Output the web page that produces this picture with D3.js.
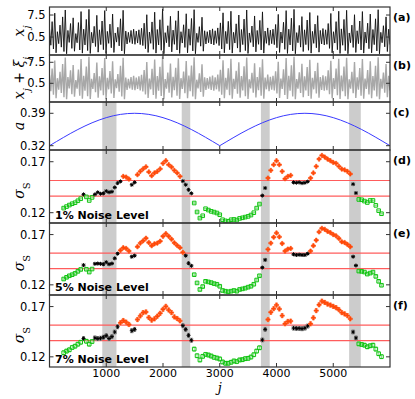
<!DOCTYPE html>
<html>
<head>
<meta charset="utf-8">
<script src="https://cdnjs.cloudflare.com/ajax/libs/d3/7.8.5/d3.min.js"></script>
<style>
  body { margin: 0; background: #fff; }
  text { font-family: "DejaVu Sans", sans-serif; }
</style>
</head>
<body>
<svg id="chart" width="415" height="399"></svg>
<script>
// ---- data ----
// x_j : peaks and troughs of the signal, left to right
var xSignal = [
  3.2,-2.1, 5.4,-3.3, 8.1,-4.5, 2.2,-1.6, 4.3,-2.7, 6.9,-4.1, 9.1,-4.8, 2.6,-1.2, 4.8,-3.1, 6.6,-4.0,
  1.6,-1.3, 5.1,-3.6, 8.6,-4.6, 3.0,-2.0, 6.1,-3.8, 9.3,-4.7, 2.0,-1.4, 3.9,-2.5, 7.4,-4.3, 2.8,-1.9,
  5.6,-3.5, 8.9,-4.7, 2.3,-1.5, 4.6,-2.9, 7.8,-4.4, 1.8,-1.1, 3.6,-2.3, 6.3,-3.9, 9.0,-4.8, 2.4,-1.7,
  2.0,-1.2, 2.6,-1.6, 3.0,-1.8, 2.4,-1.4, 2.8,-1.9, 3.3,-2.2, 4.9,-3.2, 7.6,-4.4, 2.1,-1.5, 5.3,-3.4,
  8.4,-4.6, 2.9,-2.0, 6.0,-3.7, 9.4,-4.8, 1.9,-1.3, 4.1,-2.6, 7.1,-4.2, 2.7,-1.8, 5.7,-3.6, 8.8,-4.7,
  2.2,-1.4, 4.4,-2.8, 7.9,-4.5, 3.1,-2.1, 6.4,-3.9, 9.2,-4.8, 1.7,-1.2, 3.8,-2.4, 6.8,-4.0, 2.5,-1.7,
  2.2,-1.3, 2.7,-1.7, 3.1,-2.0, 2.5,-1.5, 3.4,-2.2, 5.0,-3.3, 8.2,-4.5, 2.3,-1.6, 5.5,-3.5, 8.7,-4.6,
  2.0,-1.4, 4.7,-3.0, 7.5,-4.3, 2.9,-1.9, 6.2,-3.8, 9.1,-4.7, 1.8,-1.2, 4.0,-2.6, 7.2,-4.2, 2.6,-1.8,
  5.8,-3.6, 8.5,-4.6, 2.4,-1.5, 3.4,-2.1, 2.7,-1.6, 3.0,-1.9, 4.5,-2.9, 7.7,-4.4, 2.1,-1.4, 5.2,-3.4,
  8.9,-4.7, 3.0,-2.0, 6.5,-3.9, 9.3,-4.8, 1.9,-1.3, 4.2,-2.7, 7.0,-4.1, 2.8,-1.9, 5.9,-3.7, 8.3,-4.6,
  2.3,-1.5, 4.6,-2.9, 7.3,-4.3, 2.6,-1.7, 3.2,-2.0, 2.8,-1.8, 4.8,-3.1, 8.0,-4.5, 2.2,-1.4, 5.4,-3.5,
  8.7,-4.7, 3.1,-2.1, 6.1,-3.8, 9.0,-4.8, 1.8,-1.3, 4.3,-2.8, 7.6,-4.4, 2.5,-1.6, 5.6,-3.6, 8.6,-4.6,
  2.1,-1.4, 4.9,-3.2, 7.8,-4.5, 2.9,-1.9, 6.3,-3.9, 9.2,-4.8, 2.0,-1.3, 4.1,-2.6, 6.9,-4.1, 3.0,-1.9
];

// a : control parameter, every 125 steps of j from 0 to 6000
var aStep = 125;
var aValues = [
  0.3200,0.3291,0.3381,0.3468,0.3550,0.3626,0.3695,0.3755,0.3806,0.3847,0.3876,0.3894,0.3900,
  0.3894,0.3876,0.3847,0.3806,0.3755,0.3695,0.3626,0.3550,0.3468,0.3381,0.3291,0.3200,
  0.3291,0.3381,0.3468,0.3550,0.3626,0.3695,0.3755,0.3806,0.3847,0.3876,0.3894,0.3900,
  0.3894,0.3876,0.3847,0.3806,0.3755,0.3695,0.3626,0.3550,0.3468,0.3381,0.3291,0.3200
];

// sigma_S, one value every 50 steps of j starting at j = 250
var sigmaStart = 250, sigmaStep = 50;
var sigma1 = [
  0.1245,0.1260,0.1275,0.1288,0.1298,0.1317,0.1337,0.1380,0.1355,0.1320,
  0.1350,0.1380,0.1400,0.1386,0.1390,0.1412,0.1400,0.1406,0.1448,0.1490,
  0.1507,0.1556,0.1550,0.1530,0.1474,0.1497,0.1573,0.1605,0.1630,0.1650,
  0.1600,0.1563,0.1590,0.1605,0.1630,0.1684,0.1710,0.1671,0.1648,0.1615,
  0.1590,0.1556,0.1510,0.1474,0.1425,0.1390,0.1295,0.1207,0.1147,0.1170,
  0.1239,0.1226,0.1213,0.1206,0.1197,0.1180,0.1131,0.1120,0.1115,0.1131,
  0.1134,0.1128,0.1144,0.1150,0.1157,0.1164,0.1177,0.1200,0.1245,0.1285,
  0.1368,0.1442,0.1540,0.1615,0.1671,0.1710,0.1671,0.1605,0.1533,0.1556,
  0.1566,0.1497,0.1494,0.1497,0.1490,0.1494,0.1505,0.1540,0.1590,0.1654,
  0.1726,0.1762,0.1746,0.1726,0.1710,0.1693,0.1684,0.1654,0.1628,0.1620,
  0.1605,0.1580,0.1480,0.1393,0.1330,0.1327,0.1314,0.1300,0.1320,0.1320,
  0.1272,0.1220,0.1190
];
var sigma5 = [
  0.1258,0.1275,0.1290,0.1301,0.1314,0.1334,0.1353,0.1396,0.1355,0.1327,
  0.1357,0.1409,0.1412,0.1409,0.1405,0.1425,0.1405,0.1412,0.1464,0.1510,
  0.1543,0.1569,0.1562,0.1536,0.1480,0.1490,0.1579,0.1615,0.1638,0.1664,
  0.1621,0.1589,0.1608,0.1615,0.1634,0.1683,0.1709,0.1683,0.1654,0.1618,
  0.1592,0.1569,0.1523,0.1490,0.1415,0.1389,0.1301,0.1219,0.1154,0.1183,
  0.1235,0.1229,0.1222,0.1212,0.1206,0.1186,0.1144,0.1137,0.1131,0.1137,
  0.1144,0.1137,0.1154,0.1160,0.1167,0.1177,0.1186,0.1206,0.1248,0.1290,
  0.1372,0.1448,0.1553,0.1615,0.1674,0.1716,0.1677,0.1611,0.1536,0.1556,
  0.1562,0.1504,0.1497,0.1500,0.1497,0.1497,0.1510,0.1536,0.1589,0.1644,
  0.1726,0.1762,0.1752,0.1732,0.1719,0.1700,0.1687,0.1661,0.1628,0.1621,
  0.1602,0.1579,0.1480,0.1392,0.1337,0.1334,0.1327,0.1307,0.1317,0.1327,
  0.1284,0.1235,0.1196
];
var sigma7 = [
  0.1241,0.1257,0.1270,0.1293,0.1306,0.1326,0.1345,0.1382,0.1355,0.1326,
  0.1352,0.1388,0.1382,0.1385,0.1395,0.1411,0.1382,0.1401,0.1447,0.1499,
  0.1539,0.1561,0.1545,0.1522,0.1460,0.1473,0.1571,0.1607,0.1640,0.1646,
  0.1591,0.1565,0.1578,0.1604,0.1633,0.1673,0.1702,0.1666,0.1640,0.1597,
  0.1581,0.1558,0.1510,0.1473,0.1414,0.1365,0.1277,0.1211,0.1169,0.1205,
  0.1224,0.1218,0.1208,0.1195,0.1188,0.1179,0.1149,0.1136,0.1136,0.1146,
  0.1159,0.1153,0.1169,0.1172,0.1182,0.1185,0.1198,0.1221,0.1257,0.1290,
  0.1368,0.1473,0.1571,0.1643,0.1679,0.1715,0.1676,0.1610,0.1529,0.1552,
  0.1555,0.1486,0.1483,0.1483,0.1480,0.1486,0.1506,0.1529,0.1588,0.1660,
  0.1718,0.1754,0.1741,0.1725,0.1715,0.1702,0.1689,0.1669,0.1640,0.1627,
  0.1610,0.1578,0.1447,0.1388,0.1329,0.1323,0.1316,0.1300,0.1310,0.1316,
  0.1277,0.1231,0.1202
];
var noiseNames = ["1% Noise Level", "5% Noise Level", "7% Noise Level"];
var noiseErr = [0.0003, 0.0009, 0.0020];
var sigmaLines = [0.1362, 0.1516];               // red threshold lines
var bands = [[930, 1180], [2330, 2480], [3725, 3880], [5280, 5485]];
var xTicks = [1000, 2000, 3000, 4000, 5000];

// ---- layout ----
var svg = d3.select("#chart");
var left = 49.5, right = 390;
var x = d3.scaleLinear().domain([0, 6000]).range([left, right]);

var panels = [
  {id: "a", top: 7,   bottom: 55,  domain: [-5.2, 10.05],    ticks: [0.5, 7.5],   fmt: ".1f"},
  {id: "b", top: 55,  bottom: 102, domain: [-5.73, 9.93],    ticks: [0.5, 7.5],   fmt: ".1f"},
  {id: "c", top: 102, bottom: 150, domain: [0.3107, 0.4144], ticks: [0.32, 0.39], fmt: ".2f"},
  {id: "d", top: 150, bottom: 223, domain: [0.1099, 0.1815], ticks: [0.12, 0.17], fmt: ".2f"},
  {id: "e", top: 223, bottom: 295, domain: [0.1099, 0.1815], ticks: [0.12, 0.17], fmt: ".2f"},
  {id: "f", top: 295, bottom: 367, domain: [0.1099, 0.1815], ticks: [0.12, 0.17], fmt: ".2f"}
];
panels.forEach(function (p) {
  p.y = d3.scaleLinear().domain(p.domain).range([p.bottom, p.top]);
  svg.append("clipPath").attr("id", "clip_" + p.id)
    .append("rect").attr("x", left).attr("y", p.top)
    .attr("width", right - left).attr("height", p.bottom - p.top);
});

// grey bands behind panels c-f
svg.append("g").selectAll("rect")
  .data(bands).enter().append("rect")
  .attr("x", function (d) { return x(d[0]); })
  .attr("width", function (d) { return x(d[1]) - x(d[0]); })
  .attr("y", panels[2].top)
  .attr("height", panels[5].bottom - panels[2].top)
  .attr("fill", "#cccccc");

// (a) and (b) signal
var sigJ = d3.range(xSignal.length).map(function (i) { return i * 6000 / (xSignal.length - 1); });
[[0, "#111111", 0.9], [1, "#a8a8a8", 1.4]].forEach(function (s) {
  var p = panels[s[0]];
  var line = d3.line()
    .x(function (d, i) { return x(sigJ[i]); })
    .y(function (d) { return p.y(d); });
  svg.append("path")
    .datum(xSignal)
    .attr("clip-path", "url(#clip_" + p.id + ")")
    .attr("d", line)
    .attr("fill", "none")
    .attr("stroke", s[1])
    .attr("stroke-width", s[2]);
});

// (c) control parameter
var pc = panels[2];
svg.append("path")
  .datum(aValues)
  .attr("d", d3.line()
    .x(function (d, i) { return x(i * aStep); })
    .y(function (d) { return pc.y(d); }))
  .attr("fill", "none")
  .attr("stroke", "#3a3aff")
  .attr("stroke-width", 1);

// (d)-(f) sigma_S
function markerClass(v) {
  if (v > sigmaLines[1]) return "hi";
  if (v < sigmaLines[0]) return "lo";
  return "mid";
}
var colors = {hi: "#ff4a0a", mid: "#000000", lo: "#12c412"};
var errColors = {hi: "#ffb59a", mid: "#888888", lo: "#8fe08f"};

[sigma1, sigma5, sigma7].forEach(function (series, k) {
  var p = panels[3 + k];
  var g = svg.append("g").attr("clip-path", "url(#clip_" + p.id + ")");

  // threshold lines
  g.selectAll("line.thr").data(sigmaLines).enter().append("line")
    .attr("x1", left).attr("x2", right)
    .attr("y1", function (d) { return p.y(d); })
    .attr("y2", function (d) { return p.y(d); })
    .attr("stroke", "#ff5c5c").attr("stroke-width", 1.2);

  var pts = series.map(function (v, i) {
    return {j: sigmaStart + i * sigmaStep, v: v, c: markerClass(v)};
  });

  // error bars
  var err = noiseErr[k];
  g.selectAll("g.err").data(pts).enter().append("path")
    .attr("d", function (d) {
      var cx = x(d.j), y0 = p.y(d.v - err), y1 = p.y(d.v + err);
      return "M" + cx + "," + y0 + "V" + y1 +
        "M" + (cx - 1.5) + "," + y0 + "h3M" + (cx - 1.5) + "," + y1 + "h3";
    })
    .attr("stroke", function (d) { return errColors[d.c]; })
    .attr("stroke-width", 1)
    .attr("fill", "none");

  // markers
  g.selectAll("path.mk").data(pts).enter().append("path")
    .attr("transform", function (d) { return "translate(" + x(d.j) + "," + p.y(d.v) + ")"; })
    .attr("d", function (d) {
      if (d.c === "lo") return "M-1.8,-1.8h3.6v3.6h-3.6Z";
      if (d.c === "mid") return "M-2,0h4M0,-2v4M-1.4,-1.4l2.8,2.8M-1.4,1.4l2.8,-2.8";
      return d3.symbol().type(d3.symbolCross).size(10)();
    })
    .attr("fill", function (d) { return d.c === "hi" ? colors.hi : "none"; })
    .attr("stroke", function (d) { return colors[d.c]; })
    .attr("stroke-width", function (d) { return d.c === "hi" ? 0.6 : 1; });

  svg.append("text")
    .attr("x", 55).attr("y", p.bottom - 4)
    .attr("font-size", 11).attr("font-weight", "bold")
    .text(noiseNames[k]);
});

// frames, ticks, tick labels
panels.forEach(function (p) {
  var g = svg.append("g");
  g.append("rect")
    .attr("x", left).attr("y", p.top)
    .attr("width", right - left).attr("height", p.bottom - p.top)
    .attr("fill", "none").attr("stroke", "#333").attr("stroke-width", 1.2);
  xTicks.forEach(function (t) {
    g.append("line").attr("x1", x(t)).attr("x2", x(t))
      .attr("y1", p.bottom).attr("y2", p.bottom - 4).attr("stroke", "#333");
    g.append("line").attr("x1", x(t)).attr("x2", x(t))
      .attr("y1", p.top).attr("y2", p.top + 4).attr("stroke", "#333");
  });
  p.ticks.forEach(function (t) {
    g.append("line").attr("x1", left).attr("x2", left + 4)
      .attr("y1", p.y(t)).attr("y2", p.y(t)).attr("stroke", "#333");
    g.append("line").attr("x1", right).attr("x2", right - 4)
      .attr("y1", p.y(t)).attr("y2", p.y(t)).attr("stroke", "#333");
    g.append("text")
      .attr("x", left - 4).attr("y", p.y(t)).attr("dy", "0.35em")
      .attr("text-anchor", "end").attr("font-size", 11.5)
      .text(d3.format(p.fmt)(t));
  });
  g.append("text")
    .attr("x", 393).attr("y", p.top + 14)
    .attr("font-size", 11).attr("font-weight", "bold")
    .text("(" + p.id + ")");
});

// x tick labels and axis title
var last = panels[5];
svg.append("g").selectAll("text").data(xTicks).enter().append("text")
  .attr("x", function (d) { return x(d); })
  .attr("y", last.bottom + 10)
  .attr("text-anchor", "middle").attr("font-size", 11)
  .text(function (d) { return d; });
svg.append("text")
  .attr("x", x(3000)).attr("y", 392)
  .attr("text-anchor", "middle")
  .style("font-family", "'DejaVu Serif', serif")
  .attr("font-style", "italic").attr("font-size", 13)
  .text("j");

// y axis titles (rotated, math italic)
function yTitle(cy, parts) {
  var t = svg.append("text")
    .attr("transform", "translate(24," + cy + ") rotate(-90)")
    .attr("text-anchor", "middle")
    .style("font-family", "'DejaVu Serif', serif")
    .attr("font-size", 14);
  parts.forEach(function (pt) {
    var s = t.append("tspan").text(pt[0]);
    if (pt[1] === "i") s.attr("font-style", "italic");
    if (pt[1] === "sub") s.attr("font-style", "italic").attr("font-size", 10).attr("baseline-shift", "sub");
    if (pt[1] === "subu") s.attr("font-size", 10).attr("baseline-shift", "sub");
  });
}
yTitle(31, [["x", "i"], ["j", "sub"]]);
yTitle(78, [["x", "i"], ["j", "sub"], [" + ", ""], ["\u03be", "i"], ["j", "sub"]]);
yTitle(126, [["a", "i"]]);
panels.slice(3).forEach(function (p) {
  yTitle((p.top + p.bottom) / 2 + 4, [["\u03c3", "i"], ["S", "subu"]]);
});
</script>
</body>
</html>
